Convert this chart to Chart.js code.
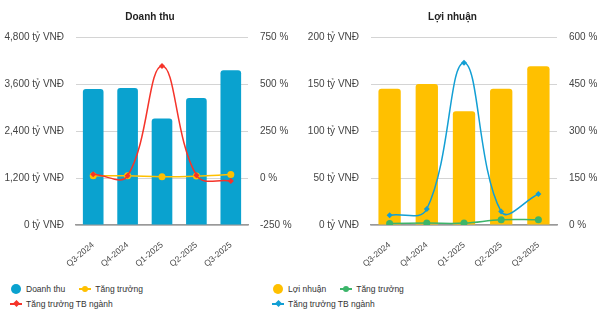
<!DOCTYPE html>
<html>
<head>
<meta charset="utf-8">
<script src="https://cdn.jsdelivr.net/npm/chart.js@4.4.0/dist/chart.umd.min.js"></script>
<style>
  body { margin: 0; width: 605px; height: 323px; background: #fff; position: relative; overflow: hidden;
         font-family: 'Liberation Sans', Arial, sans-serif; }
  #c1 { position: absolute; left: 0; top: 0; }
  #c2 { position: absolute; left: 300px; top: 0; }
  .legend { position: absolute; top: 281px; width: 180px; display: flex; flex-wrap: wrap; font-size: 8.5px; color: #333; }
  .item { display: flex; align-items: center; height: 15px; margin-right: 14px; }
  .mark { position: relative; width: 12px; height: 10px; margin-right: 4px; }
  .mark .dot { position: absolute; left: 1px; top: 0; width: 10px; height: 10px; border-radius: 50%; }
  .mark .ln { position: absolute; left: 0; top: 4px; width: 12px; height: 2px; }
  .mark .pc { position: absolute; left: 3px; top: 2px; width: 6px; height: 6px; border-radius: 50%; }
  .mark .pd { position: absolute; left: 3.5px; top: 2.5px; width: 5px; height: 5px; transform: rotate(45deg); }
</style>
</head>
<body>
<canvas id="c1" width="300" height="270"></canvas>
<canvas id="c2" width="305" height="270"></canvas>
<div class="legend" id="lg1" style="left:10px"></div>
<div class="legend" id="lg2" style="left:272px"></div>
<script>
// Dữ liệu theo quý
const quarters = ['Q3-2024', 'Q4-2024', 'Q1-2025', 'Q2-2025', 'Q3-2025'];

// Doanh thu (tỷ VNĐ) và tăng trưởng (%)
const revenue = [3470, 3500, 2720, 3240, 3950];
const revenueGrowth = [12, 12, 7, 10, 18];
const revenueIndustry = [20, 12, 596, 15, -16];

// Lợi nhuận (tỷ VNĐ) và tăng trưởng (%)
const profit = [145, 150, 121, 145, 169];
const profitGrowth = [5, 6, 6, 17, 17];
const profitIndustry = [31, 51, 518, 43, 99];

// Nhãn trục
const revenueTicks = [0, 1200, 2400, 3600, 4800];
const revenuePctTicks = [-250, 0, 250, 500, 750];
const profitTicks = [0, 50, 100, 150, 200];
const profitPctTicks = [0, 150, 300, 450, 600];

const FONT = "'Liberation Sans', Arial, sans-serif";

function vnd(v) { return v.toLocaleString('en-US') + ' tỷ VNĐ'; }
function pct(v) { return v + ' %'; }

function lineSet(label, data, color, style, order) {
    return {
        type: 'line', label: label, data: data, yAxisID: 'y1', order: order,
        borderColor: color, backgroundColor: color, borderWidth: 1.5, tension: 0.4,
        pointStyle: style, pointRadius: style === 'circle' ? 3.5 : 3, pointBorderWidth: 0
    };
}

function makeChart(id, title, bars, growth, industry, ticks, pctTicks, leftW, rightW) {
    const fixW = w => scale => { scale.width = w; };
    return new Chart(document.getElementById(id), {
        data: {
            labels: quarters,
            datasets: [
                { type: 'bar', label: bars.label, data: bars.data, backgroundColor: bars.color, order: 3,
                  borderRadius: 3, barPercentage: 0.6, categoryPercentage: 1 },
                lineSet('Tăng trưởng', growth.data, growth.color, 'circle', 1),
                lineSet('Tăng trưởng TB ngành', industry.data, industry.color, 'rectRot', 0)
            ]
        },
        options: {
            responsive: false,
            animation: false,
            layout: { padding: 0 },
            plugins: {
                legend: { display: false },
                tooltip: { enabled: false },
                title: { display: true, text: title, color: '#222',
                         font: { family: FONT, size: 10, weight: 'bold' }, padding: { top: 11, bottom: 14 } }
            },
            scales: {
                x: {
                    grid: { display: false },
                    border: { display: true, color: '#999', width: 1.5 },
                    ticks: { font: { family: FONT, size: 8.5 }, color: '#444', minRotation: 40, maxRotation: 40, padding: 7 },
                    afterFit: scale => { scale.height = 45; }
                },
                y: {
                    position: 'left', min: ticks[0], max: ticks[ticks.length - 1],
                    afterBuildTicks: s => { s.ticks = ticks.map(v => ({ value: v })); },
                    grid: { color: '#d4d4d4', drawTicks: false },
                    border: { display: false },
                    ticks: { callback: vnd, font: { family: FONT, size: 10 }, color: '#444', padding: 12 },
                    afterFit: fixW(leftW)
                },
                y1: {
                    position: 'right', min: pctTicks[0], max: pctTicks[pctTicks.length - 1],
                    afterBuildTicks: s => { s.ticks = pctTicks.map(v => ({ value: v })); },
                    grid: { display: false, drawTicks: false },
                    border: { display: false },
                    ticks: { callback: pct, font: { family: FONT, size: 10 }, color: '#444', padding: 12 },
                    afterFit: fixW(rightW)
                }
            }
        }
    });
}

// Chú thích HTML lấy từ dataset của biểu đồ
function buildLegend(chart, elId) {
    const box = document.getElementById(elId);
    chart.data.datasets.forEach(ds => {
        const item = document.createElement('div');
        item.className = 'item';
        const mark = document.createElement('span');
        mark.className = 'mark';
        if (ds.type === 'bar') {
            mark.innerHTML = `<span class="dot" style="background:${ds.backgroundColor}"></span>`;
        } else {
            const p = ds.pointStyle === 'circle' ? 'pc' : 'pd';
            mark.innerHTML = `<span class="ln" style="background:${ds.borderColor}"></span>` +
                             `<span class="${p}" style="background:${ds.borderColor}"></span>`;
        }
        const txt = document.createElement('span');
        txt.textContent = ds.label;
        item.appendChild(mark);
        item.appendChild(txt);
        box.appendChild(item);
    });
}

const chart1 = makeChart('c1', 'Doanh thu',
    { label: 'Doanh thu', data: revenue, color: '#0aa2cf' },
    { data: revenueGrowth, color: '#ffc000' },
    { data: revenueIndustry, color: '#f5342a' },
    revenueTicks, revenuePctTicks, 76, 52);

const chart2 = makeChart('c2', 'Lợi nhuận',
    { label: 'Lợi nhuận', data: profit, color: '#ffc000' },
    { data: profitGrowth, color: '#3cb56a' },
    { data: profitIndustry, color: '#129fd4' },
    profitTicks, profitPctTicks, 71, 48);

buildLegend(chart1, 'lg1');
buildLegend(chart2, 'lg2');
</script>
</body>
</html>
